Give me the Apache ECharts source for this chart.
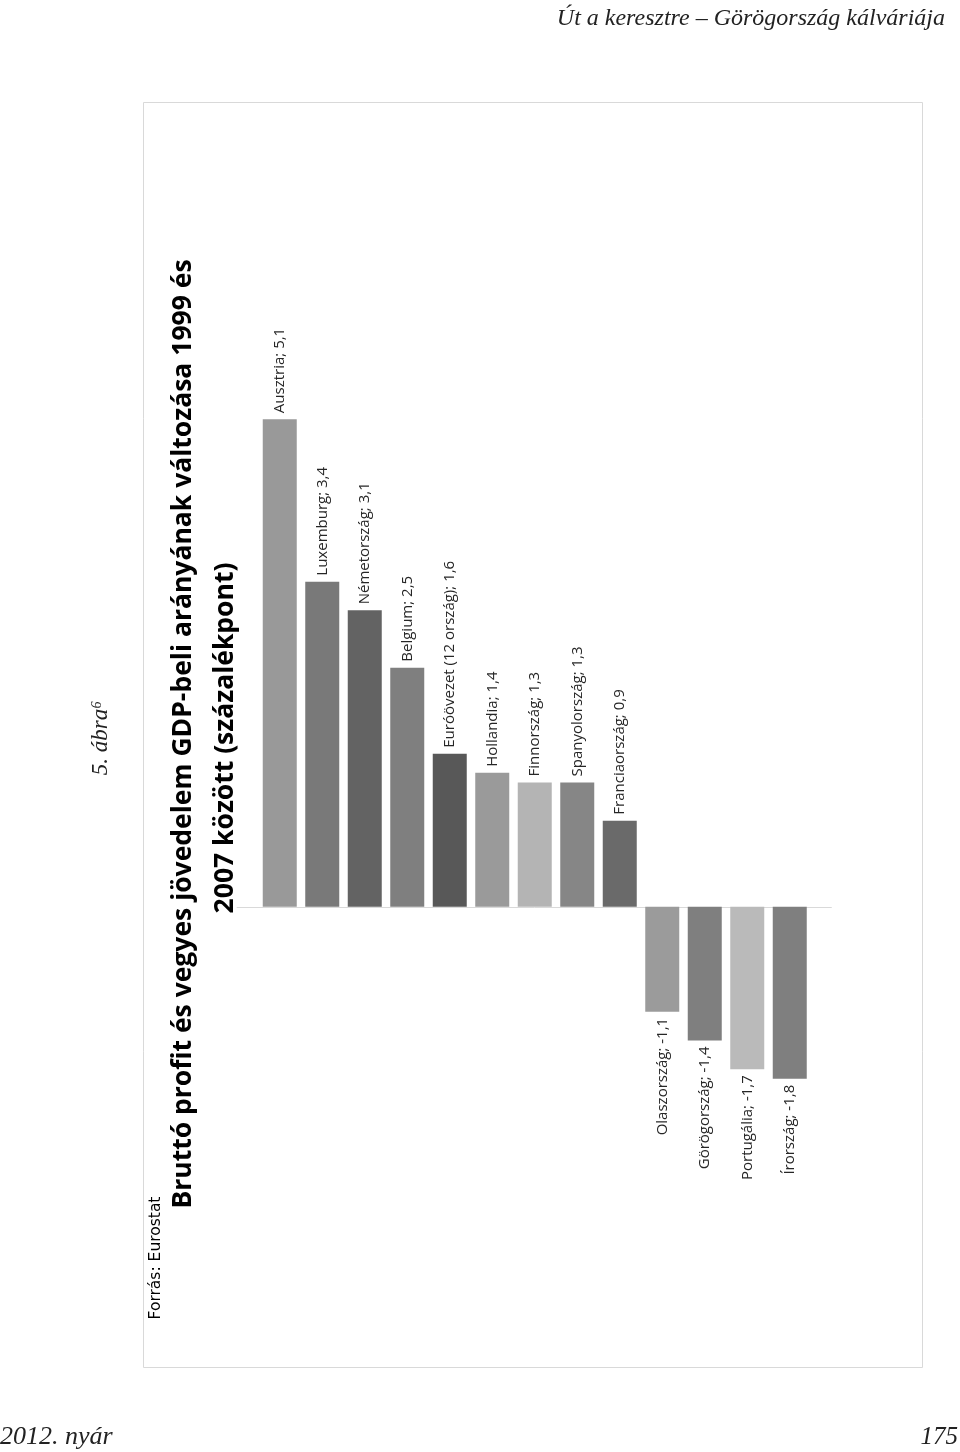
<!DOCTYPE html>
<html><head><meta charset="utf-8">
<script src="https://cdn.jsdelivr.net/npm/echarts@6/dist/echarts.min.js"></script>
<style>html,body{margin:0;padding:0;background:#fff}#c{width:960px;height:1452px}</style>
</head><body><div id="c"></div>
<script>
const categories = ['Ausztria','Luxemburg','Németország','Belgium','Euróövezet (12 ország)','Hollandia','Finnország','Spanyolország','Franciaország','Olaszország','Görögország','Portugália','Írország'];
const values = [5.1, 3.4, 3.1, 2.5, 1.6, 1.4, 1.3, 1.3, 0.9, -1.1, -1.4, -1.7, -1.8];
const barColors = ['#999999','#797979','#636363','#7f7f7f','#585858','#9a9a9a','#b4b4b4','#868686','#6a6a6a','#9b9b9b','#7f7f7f','#bababa','#7f7f7f'];
const titleLines = ['Bruttó profit és vegyes jövedelem GDP-beli arányának változása 1999 és', '2007 között (százalékpont)'];
const sourceText = 'Forrás: Eurostat';
const figureText = '5. ábra⁶';
const headerText = 'Út a keresztre – Görögország kálváriája';
const footerLeft = '2012. nyár';
const footerRight = '175';

const chart = echarts.init(document.getElementById('c'), null, {renderer: 'canvas'});
const labelFont = '"Open Sans"';
const fmt = v => String(v).replace('.', ',');

const data = values.map((v, i) => ({
  value: v,
  itemStyle: {color: barColors[i]},
  label: v >= 0
    ? {position: 'top', align: 'left', verticalAlign: 'middle'}
    : {position: 'bottom', align: 'right', verticalAlign: 'middle'}
}));

const rot = Math.PI / 2;
const option = {
  backgroundColor: '#fff',
  animation: false,
  grid: {left: 258.5, right: 149, top: 333.1, bottom: 354.1, containLabel: false},
  xAxis: {
    type: 'category', data: categories,
    axisLine: {show: false}, axisTick: {show: false}, axisLabel: {show: false}
  },
  yAxis: {
    type: 'value', min: -2, max: 6, interval: 1,
    axisLine: {show: false}, axisTick: {show: false}, axisLabel: {show: false},
    splitLine: {show: false}
  },
  series: [{
    type: 'bar', data: data, barCategoryGap: '20%',
    label: {
      show: true, rotate: 90, distance: 6,
      fontFamily: labelFont, fontSize: 15, color: '#262626',
      formatter: p => p.name + '; ' + fmt(p.value)
    }
  }],
  graphic: [
    {type: 'rect', shape: {x: 143.5, y: 102.5, width: 779, height: 1265}, style: {fill: 'none', stroke: '#d9d9d9', lineWidth: 1}, z: 0},
    {type: 'text', x: 945, y: 19, style: {text: headerText, font: 'italic 24px "Liberation Serif"', fill: '#222', align: 'right', verticalAlign: 'middle'}},
    {type: 'text', x: 0, y: 1437, style: {text: footerLeft, font: 'italic 26px "Liberation Serif"', fill: '#222', align: 'left', verticalAlign: 'middle'}},
    {type: 'text', x: 958, y: 1437, style: {text: footerRight, font: 'italic 25px "Liberation Serif"', fill: '#222', align: 'right', verticalAlign: 'middle'}},
    {type: 'text', x: 101, y: 738, rotation: rot, style: {text: figureText, font: 'italic 23px "Liberation Serif"', fill: '#222', align: 'center', verticalAlign: 'middle'}},
    {type: 'text', x: 183, y: 734, rotation: rot, style: {text: titleLines[0], font: 'bold 26.5px "Open Sans"', fill: '#000', align: 'center', verticalAlign: 'middle'}},
    {type: 'text', x: 225, y: 738, rotation: rot, style: {text: titleLines[1], font: 'bold 26.5px "Open Sans"', fill: '#000', align: 'center', verticalAlign: 'middle'}},
    {type: 'text', x: 156, y: 1258, rotation: rot, style: {text: sourceText, font: '15.5px "DejaVu Sans"', fill: '#000', align: 'center', verticalAlign: 'middle'}}
  ]
};
chart.setOption(option);

const y0 = chart.convertToPixel({yAxisIndex: 0}, 0);
const xs = chart.convertToPixel({xAxisIndex: 0}, categories[0]);
const xe = chart.convertToPixel({xAxisIndex: 0}, categories[categories.length - 1]);
chart.setOption({graphic: option.graphic.concat([
  {type: 'line', shape: {x1: xs - 43, y1: Math.round(y0) + 0.5, x2: xe + 42, y2: Math.round(y0) + 0.5}, style: {stroke: '#d9d9d9', lineWidth: 1}, z: 0}
])});
</script></body></html>
